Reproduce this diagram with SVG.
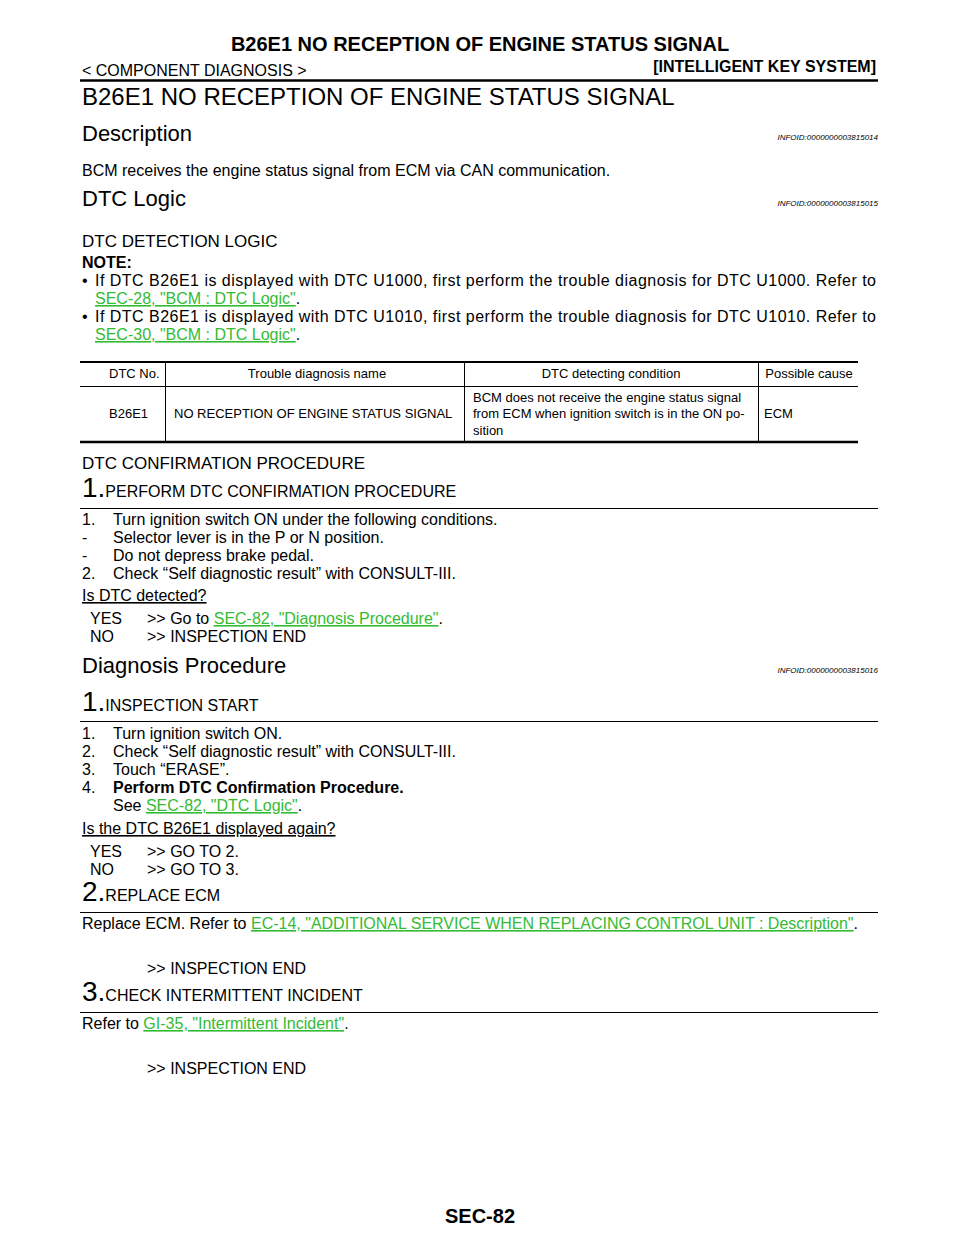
<svg xmlns="http://www.w3.org/2000/svg" width="960" height="1242" viewBox="0 0 960 1242">
<style>
text{font-family:"Liberation Sans",Arial,sans-serif;fill:#000;font-size:16px}
.b{font-weight:bold}
.h{font-size:22px}
.id{font-size:8px;font-style:italic;text-anchor:end}
.t{font-size:13px}
.l{fill:#33bb33;text-decoration:underline}
.n{font-size:28px}
.u{text-decoration:underline}
line{stroke:#000}
</style>
<rect width="960" height="1242" fill="#fff"/>
<g id="header">
<text x="480" y="51" class="b" text-anchor="middle" style="font-size:20px">B26E1 NO RECEPTION OF ENGINE STATUS SIGNAL</text>
<text x="82" y="76">&lt; COMPONENT DIAGNOSIS &gt;</text>
<text x="876" y="72" class="b" text-anchor="end">[INTELLIGENT KEY SYSTEM]</text>
<line x1="80" y1="80.5" x2="878" y2="80.5" stroke-width="2.5"/>
<text x="82" y="105" style="font-size:24px">B26E1 NO RECEPTION OF ENGINE STATUS SIGNAL</text>
</g>
<g id="description">
<text x="82" y="141" class="h">Description</text>
<text x="878" y="140" class="id">INFOID:0000000003815014</text>
<text x="82" y="176">BCM receives the engine status signal from ECM via CAN communication.</text>
</g>
<g id="dtclogic">
<text x="82" y="206" class="h">DTC Logic</text>
<text x="878" y="206" class="id">INFOID:0000000003815015</text>
<text x="82" y="247" style="font-size:17px">DTC DETECTION LOGIC</text>
<text x="82" y="268" class="b">NOTE:</text>
<text x="82" y="286">•</text>
<text x="95" y="286" textLength="781" lengthAdjust="spacing">If DTC B26E1 is displayed with DTC U1000, first perform the trouble diagnosis for DTC U1000. Refer to</text>
<text x="95" y="304"><tspan class="l">SEC-28, "BCM : DTC Logic"</tspan>.</text>
<text x="82" y="322">•</text>
<text x="95" y="322" textLength="781" lengthAdjust="spacing">If DTC B26E1 is displayed with DTC U1010, first perform the trouble diagnosis for DTC U1010. Refer to</text>
<text x="95" y="340"><tspan class="l">SEC-30, "BCM : DTC Logic"</tspan>.</text>
</g>
<g id="table">
<line x1="80" y1="362" x2="858" y2="362" stroke-width="2"/>
<line x1="80" y1="386.5" x2="858" y2="386.5" stroke-width="1"/>
<line x1="80" y1="442" x2="858" y2="442" stroke-width="2.5"/>
<line x1="165.5" y1="362" x2="165.5" y2="442"/>
<line x1="464.5" y1="362" x2="464.5" y2="442"/>
<line x1="758.5" y1="362" x2="758.5" y2="442"/>
<text x="109" y="378" class="t">DTC No.</text>
<text x="317" y="378" class="t" text-anchor="middle">Trouble diagnosis name</text>
<text x="611" y="378" class="t" text-anchor="middle">DTC detecting condition</text>
<text x="809" y="378" class="t" text-anchor="middle">Possible cause</text>
<text x="109" y="418" class="t">B26E1</text>
<text x="174" y="418" class="t">NO RECEPTION OF ENGINE STATUS SIGNAL</text>
<text x="473" y="402" class="t">BCM does not receive the engine status signal</text>
<text x="473" y="418" class="t">from ECM when ignition switch is in the ON po-</text>
<text x="473" y="435" class="t">sition</text>
<text x="764" y="418" class="t">ECM</text>
</g>
<g id="confirmation">
<text x="82" y="469" style="font-size:17px">DTC CONFIRMATION PROCEDURE</text>
<text x="82" y="497"><tspan class="n">1.</tspan>PERFORM DTC CONFIRMATION PROCEDURE</text>
<line x1="80" y1="508.5" x2="878" y2="508.5"/>
<text x="82" y="525">1.<tspan x="113">Turn ignition switch ON under the following conditions.</tspan></text>
<text x="82" y="543">-<tspan x="113">Selector lever is in the P or N position.</tspan></text>
<text x="82" y="561">-<tspan x="113">Do not depress brake pedal.</tspan></text>
<text x="82" y="579">2.<tspan x="113">Check “Self diagnostic result” with CONSULT-III.</tspan></text>
<text x="82" y="601" class="u">Is DTC detected?</text>
<text x="90" y="624">YES</text><text x="147" y="624">&gt;&gt; Go to <tspan class="l">SEC-82, "Diagnosis Procedure"</tspan>.</text>
<text x="90" y="642">NO</text><text x="147" y="642">&gt;&gt; INSPECTION END</text>
</g>
<g id="diagnosis">
<text x="82" y="673" class="h">Diagnosis Procedure</text>
<text x="878" y="673" class="id">INFOID:0000000003815016</text>
<text x="82" y="711"><tspan class="n">1.</tspan>INSPECTION START</text>
<line x1="80" y1="721.5" x2="878" y2="721.5"/>
<text x="82" y="739">1.<tspan x="113">Turn ignition switch ON.</tspan></text>
<text x="82" y="757">2.<tspan x="113">Check “Self diagnostic result” with CONSULT-III.</tspan></text>
<text x="82" y="775">3.<tspan x="113">Touch “ERASE”.</tspan></text>
<text x="82" y="793">4.<tspan x="113" class="b">Perform DTC Confirmation Procedure.</tspan></text>
<text x="113" y="811">See <tspan class="l">SEC-82, "DTC Logic"</tspan>.</text>
<text x="82" y="834" class="u">Is the DTC B26E1 displayed again?</text>
<text x="90" y="857">YES</text><text x="147" y="857">&gt;&gt; GO TO 2.</text>
<text x="90" y="875">NO</text><text x="147" y="875">&gt;&gt; GO TO 3.</text>
<text x="82" y="901"><tspan class="n">2.</tspan>REPLACE ECM</text>
<line x1="80" y1="912.5" x2="878" y2="912.5"/>
<text x="82" y="929">Replace ECM. Refer to <tspan class="l">EC-14, "ADDITIONAL SERVICE WHEN REPLACING CONTROL UNIT : Description"</tspan>.</text>
<text x="147" y="974">&gt;&gt; INSPECTION END</text>
<text x="82" y="1001"><tspan class="n">3.</tspan>CHECK INTERMITTENT INCIDENT</text>
<line x1="80" y1="1012.5" x2="878" y2="1012.5"/>
<text x="82" y="1029">Refer to <tspan class="l">GI-35, "Intermittent Incident"</tspan>.</text>
<text x="147" y="1074">&gt;&gt; INSPECTION END</text>
</g>
<g id="footer">
<text x="480" y="1223" class="b" text-anchor="middle" style="font-size:20px">SEC-82</text>
</g>
</svg>
